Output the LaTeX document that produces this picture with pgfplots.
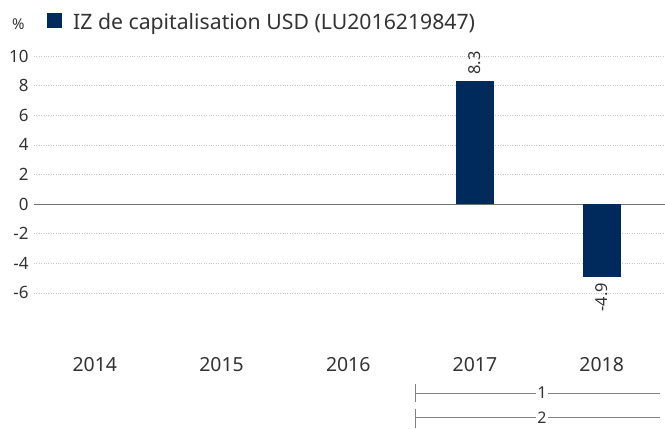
\documentclass[border=0pt]{standalone}
\usepackage{fontspec}
\setmainfont{Noto Sans}
\usepackage{pgfplots}
\pgfplotsset{compat=1.18}
\definecolor{navy}{HTML}{002A5C}
\definecolor{txt}{HTML}{333333}
\definecolor{gridc}{HTML}{C8C8C8}
\definecolor{zeroc}{HTML}{6E7275}
\definecolor{rangec}{HTML}{808080}
\begin{document}
\begin{tikzpicture}[x=1bp,y=1bp]
\useasboundingbox (-34,-83) rectangle (631,345);
\begin{axis}[
  at={(0,0)}, anchor=south west,
  scale only axis, width=631bp, height=289bp,
  xmin=-0.48, xmax=4.5, ymin=-9.527, ymax=10,
  clip=false,
  axis line style={draw=none},
  major tick length=0pt,
  xtick={0,1,2,3,4},
  xticklabels={2014,2015,2016,2017,2018},
  ytick={-6,-4,-2,0,2,4,6,8,10},
  ymajorgrids, grid style={gridc, dotted, line width=0.6pt},
  /pgf/number format/assume math mode=true,
  tick label style={font=\fontsize{17}{19}\selectfont, text=txt},
  xticklabel style={font=\fontsize{19.5}{22}\selectfont, yshift=-9bp},
  yticklabel style={xshift=-2bp},
  ybar, bar width=0.3,
]
\draw[zeroc, line width=1pt] (axis cs:-0.48,0) -- (axis cs:4.5,0);
\addplot[fill=navy, draw=none, bar shift=0pt, nodes near coords,
  every node near coord/.append style={rotate=90, anchor=west, font=\fontsize{16.5}{18}\selectfont, text=txt, xshift=3bp}]
  coordinates {(3,8.3)};
\addplot[fill=navy, draw=none, bar shift=0pt, nodes near coords,
  every node near coord/.append style={rotate=90, anchor=east, font=\fontsize{16.5}{18}\selectfont, text=txt, xshift=-3bp}]
  coordinates {(4,-4.9)};
\end{axis}
% legend and unit
\node[anchor=base west, text=txt, font=\fontsize{15}{17}\selectfont, inner sep=0] at (-22,316) {\%};
\fill[navy] (13,317) rectangle (28,332);
\node[anchor=base west, text=txt, font=\fontsize{21.3}{24}\selectfont, inner sep=0] at (39,316) {IZ de capitalisation USD (LU2016219847)};
% period ranges
\draw[rangec, line width=0.8pt] (381.5,-48) -- (502,-48);
\draw[rangec, line width=0.8pt] (514,-48) -- (626,-48);
\draw[rangec, line width=0.8pt] (381.5,-39) -- (381.5,-57);
\node[text=txt, font=\fontsize{16.5}{18}\selectfont, inner sep=0pt] at (508,-48) {1};
\draw[rangec, line width=0.8pt] (381.5,-72.5) -- (502,-72.5);
\draw[rangec, line width=0.8pt] (514,-72.5) -- (626,-72.5);
\draw[rangec, line width=0.8pt] (381.5,-64) -- (381.5,-83);
\node[text=txt, font=\fontsize{16}{18}\selectfont, inner sep=0pt] at (508,-72.5) {2};
\end{tikzpicture}
\end{document}
